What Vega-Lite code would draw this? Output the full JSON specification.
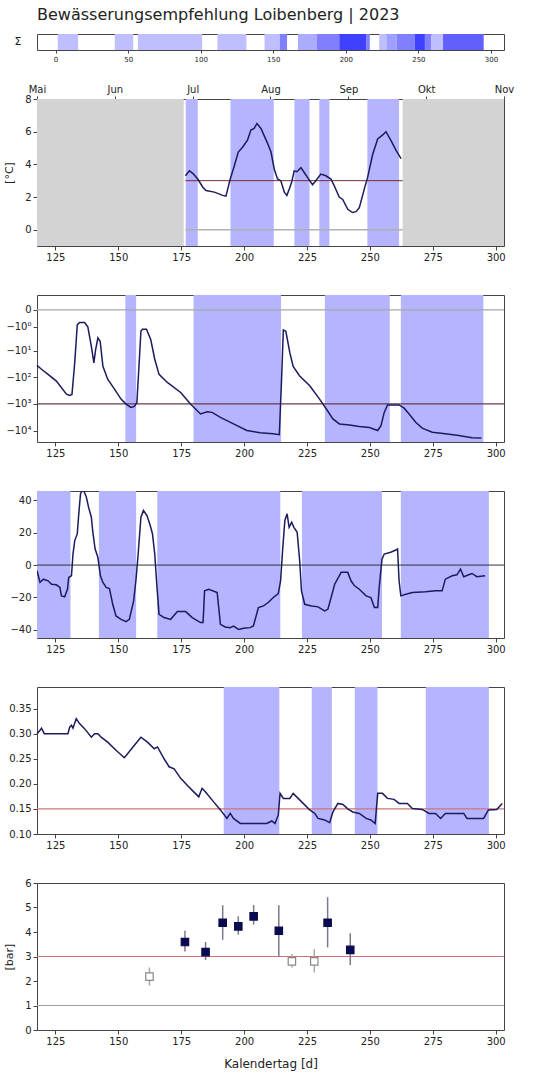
{
  "$schema": "https://vega.github.io/schema/vega-lite/v6.json",
  "padding": {"left": 3, "top": 6, "right": 5, "bottom": 5},
  "bounds": "flush",
  "spacing": 49,
  "title": {"text": "Bewässerungsempfehlung Loibenberg | 2023", "anchor": "start", "frame": "group", "fontSize": 16, "fontWeight": "normal", "color": "#222", "offset": 11},
  "config": {
    "font": "DejaVu Sans",
    "view": {"stroke": "#444", "strokeWidth": 1},
    "axis": {"grid": false, "domain": false, "labelFontSize": 10, "labelColor": "#222", "tickColor": "#444", "tickSize": 4, "labelPadding": 2, "titleFontWeight": "normal", "titleFontSize": 11, "titleColor": "#222", "labelFlush": false, "labelOverlap": false}
  },
  "datasets": {
    "strip": [
      {"s": 1.5, "e": 15.5, "lvl": 1},
      {"s": 40.8, "e": 53.5, "lvl": 1},
      {"s": 56.7, "e": 101, "lvl": 1},
      {"s": 111.5, "e": 131.5, "lvl": 1},
      {"s": 144, "e": 154.5, "lvl": 1},
      {"s": 154.5, "e": 159.5, "lvl": 2},
      {"s": 167, "e": 180, "lvl": 1.3},
      {"s": 180, "e": 195.5, "lvl": 2},
      {"s": 195.5, "e": 214, "lvl": 3},
      {"s": 214, "e": 216.5, "lvl": 2},
      {"s": 223, "e": 228, "lvl": 1},
      {"s": 228, "e": 235, "lvl": 1.5},
      {"s": 235, "e": 247.5, "lvl": 2},
      {"s": 247.5, "e": 254.5, "lvl": 3},
      {"s": 254.5, "e": 259, "lvl": 2},
      {"s": 259, "e": 267, "lvl": 1},
      {"s": 267, "e": 295, "lvl": 2.5}
    ],
    "p1gray": [{"d": 117.7, "d2": 176}, {"d": 263, "d2": 303.3}],
    "p1band": [{"d": 176.8, "d2": 181.6}, {"d": 194.6, "d2": 211.8}, {"d": 220, "d2": 226}, {"d": 229.9, "d2": 233.9}, {"d": 249, "d2": 261.6}],
    "p1ref": [{"d": 176.7, "d2": 263, "v": 3}],
    "p1zero": [{"d": 176.7, "d2": 263, "v": 0}],
    "p1line": [
      {"d": 176.7, "v": 3.3}, {"d": 178.3, "v": 3.6}, {"d": 179.6, "v": 3.45}, {"d": 181.6, "v": 3.1}, {"d": 183.6, "v": 2.6}, {"d": 184.9, "v": 2.4}, {"d": 188.2, "v": 2.3}, {"d": 191.5, "v": 2.1}, {"d": 192.8, "v": 2.05}, {"d": 194.5, "v": 3.1}, {"d": 196.1, "v": 3.9}, {"d": 197.7, "v": 4.75}, {"d": 199.4, "v": 5.05}, {"d": 201.4, "v": 5.5}, {"d": 202.7, "v": 6.1}, {"d": 204, "v": 6.2}, {"d": 205.1, "v": 6.5}, {"d": 206.7, "v": 6.2}, {"d": 209.3, "v": 5.3}, {"d": 210.7, "v": 4.75}, {"d": 212, "v": 3.7}, {"d": 213.3, "v": 3.1}, {"d": 214.6, "v": 3.0}, {"d": 216, "v": 2.3}, {"d": 217, "v": 2.1}, {"d": 218, "v": 2.5}, {"d": 218.9, "v": 2.9}, {"d": 219.9, "v": 3.6}, {"d": 221, "v": 3.55}, {"d": 222.6, "v": 3.8}, {"d": 223.9, "v": 3.5}, {"d": 225.2, "v": 3.2}, {"d": 227.2, "v": 2.75}, {"d": 228.5, "v": 3.0}, {"d": 230.5, "v": 3.4}, {"d": 232.5, "v": 3.3}, {"d": 234.5, "v": 3.1}, {"d": 235.8, "v": 2.7}, {"d": 237.8, "v": 2.0}, {"d": 239.2, "v": 1.85}, {"d": 241.2, "v": 1.25}, {"d": 243.1, "v": 1.05}, {"d": 244.5, "v": 1.1}, {"d": 245.8, "v": 1.35}, {"d": 247.8, "v": 2.5}, {"d": 249.1, "v": 3.2}, {"d": 251.1, "v": 4.6}, {"d": 253.1, "v": 5.55}, {"d": 255.1, "v": 5.8}, {"d": 256.4, "v": 6.0}, {"d": 258.4, "v": 5.45}, {"d": 260.4, "v": 4.85}, {"d": 262.4, "v": 4.35}
    ],
    "p2band": [{"d": 152.8, "d2": 157.1}, {"d": 179.9, "d2": 214.7}, {"d": 232.1, "d2": 257.9}, {"d": 262.3, "d2": 295.1}],
    "p2zero": [{"v": 0}],
    "p2ref": [{"v": -1000}],
    "p2line": [
      {"d": 117.7, "v": -36}, {"d": 119.5, "v": -50}, {"d": 122.1, "v": -78}, {"d": 125.4, "v": -140}, {"d": 129.4, "v": -431}, {"d": 130.7, "v": -480}, {"d": 131.6, "v": -440}, {"d": 132.7, "v": -28}, {"d": 133.7, "v": -0.8}, {"d": 134.6, "v": -0.6}, {"d": 136.6, "v": -0.6}, {"d": 137.9, "v": -1.0}, {"d": 139.3, "v": -6.7}, {"d": 140.3, "v": -29}, {"d": 141, "v": -8.9}, {"d": 141.9, "v": -3.1}, {"d": 142.8, "v": -4.2}, {"d": 143.9, "v": -39}, {"d": 145.8, "v": -119}, {"d": 148.5, "v": -280}, {"d": 151.1, "v": -662}, {"d": 153.1, "v": -1016}, {"d": 155, "v": -1350}, {"d": 156.4, "v": -1250}, {"d": 157.4, "v": -880}, {"d": 158.3, "v": -29}, {"d": 159, "v": -1.6}, {"d": 159.6, "v": -1.3}, {"d": 161.2, "v": -1.3}, {"d": 162.9, "v": -3.6}, {"d": 164.5, "v": -21}, {"d": 166.2, "v": -78}, {"d": 169.5, "v": -157}, {"d": 174.8, "v": -375}, {"d": 178.7, "v": -1016}, {"d": 182.7, "v": -2382}, {"d": 185.3, "v": -1980}, {"d": 187.3, "v": -2080}, {"d": 190.6, "v": -3200}, {"d": 195.8, "v": -5625}, {"d": 201.1, "v": -9960}, {"d": 206.4, "v": -12000}, {"d": 211.6, "v": -13200}, {"d": 214, "v": -14300}, {"d": 214.9, "v": -119}, {"d": 215.6, "v": -1.4}, {"d": 216.6, "v": -1.6}, {"d": 218.2, "v": -12}, {"d": 219.5, "v": -39}, {"d": 222.1, "v": -90}, {"d": 226.1, "v": -210}, {"d": 230, "v": -662}, {"d": 232.7, "v": -1554}, {"d": 235.3, "v": -3660}, {"d": 237.9, "v": -5625}, {"d": 241.9, "v": -6200}, {"d": 245.8, "v": -7000}, {"d": 249.8, "v": -7700}, {"d": 253.1, "v": -9960}, {"d": 254.4, "v": -6500}, {"d": 255.7, "v": -2080}, {"d": 257, "v": -1100}, {"d": 259, "v": -1100}, {"d": 261.6, "v": -1100}, {"d": 263.6, "v": -1450}, {"d": 265.6, "v": -2382}, {"d": 268.2, "v": -4900}, {"d": 270.8, "v": -8100}, {"d": 274.8, "v": -11500}, {"d": 280, "v": -13200}, {"d": 285.3, "v": -15200}, {"d": 290.6, "v": -18600}, {"d": 294.3, "v": -19000}
    ],
    "p3band": [{"d": 117.7, "d2": 131}, {"d": 142.3, "d2": 157.1}, {"d": 165.5, "d2": 214.4}, {"d": 223, "d2": 254.8}, {"d": 262.3, "d2": 297.3}],
    "p3zero": [{"v": 0}],
    "p3line": [
      {"d": 117.7, "v": -3.5}, {"d": 118.9, "v": -10.7}, {"d": 120.2, "v": -8.7}, {"d": 122.1, "v": -9.7}, {"d": 123.5, "v": -11.8}, {"d": 125.4, "v": -12.2}, {"d": 126.8, "v": -13.8}, {"d": 127.4, "v": -19}, {"d": 128.7, "v": -19.6}, {"d": 129.8, "v": -14.9}, {"d": 130.3, "v": -7.6}, {"d": 131.4, "v": -6.6}, {"d": 132, "v": 6.8}, {"d": 132.7, "v": 15.1}, {"d": 133.7, "v": 19.2}, {"d": 134.3, "v": 31.6}, {"d": 135, "v": 44}, {"d": 136, "v": 47}, {"d": 137.3, "v": 42}, {"d": 138.2, "v": 35.7}, {"d": 139.3, "v": 29.5}, {"d": 139.9, "v": 20.2}, {"d": 140.8, "v": 9.9}, {"d": 141.9, "v": 4.8}, {"d": 142.9, "v": -6.6}, {"d": 143.9, "v": -10.7}, {"d": 145.2, "v": -13.8}, {"d": 146.5, "v": -14.5}, {"d": 147.8, "v": -24.2}, {"d": 149.1, "v": -31.4}, {"d": 151.1, "v": -33.5}, {"d": 153.1, "v": -34.9}, {"d": 154.4, "v": -33.5}, {"d": 156.1, "v": -22.1}, {"d": 157, "v": -9.7}, {"d": 157.9, "v": 6.8}, {"d": 159, "v": 29.5}, {"d": 160, "v": 33.7}, {"d": 161.4, "v": 30.6}, {"d": 162.7, "v": 24.4}, {"d": 163.6, "v": 19.2}, {"d": 164.5, "v": 6.8}, {"d": 165.3, "v": -11.8}, {"d": 166.2, "v": -30.4}, {"d": 168.2, "v": -32.4}, {"d": 170.8, "v": -33.5}, {"d": 173.5, "v": -28.7}, {"d": 176.8, "v": -28.7}, {"d": 179.4, "v": -32.4}, {"d": 182.7, "v": -35.5}, {"d": 183.7, "v": -35.5}, {"d": 184.3, "v": -15.9}, {"d": 186, "v": -14.9}, {"d": 189.3, "v": -16.9}, {"d": 190.6, "v": -36.6}, {"d": 192.5, "v": -38.2}, {"d": 194.5, "v": -38.6}, {"d": 195.8, "v": -37.6}, {"d": 197.8, "v": -39.7}, {"d": 199.8, "v": -39}, {"d": 202.4, "v": -38.6}, {"d": 203.7, "v": -37.6}, {"d": 205.7, "v": -26.2}, {"d": 207.7, "v": -25.2}, {"d": 209.6, "v": -23.1}, {"d": 211.6, "v": -20}, {"d": 213.6, "v": -17.6}, {"d": 214.5, "v": -9.7}, {"d": 215.3, "v": 8.9}, {"d": 216.2, "v": 27.5}, {"d": 217.1, "v": 31.6}, {"d": 217.9, "v": 23.3}, {"d": 218.9, "v": 26.4}, {"d": 219.8, "v": 23.3}, {"d": 221.1, "v": 20.2}, {"d": 222.1, "v": 2.7}, {"d": 222.8, "v": -15.9}, {"d": 224.1, "v": -24.2}, {"d": 226.8, "v": -25.2}, {"d": 229.4, "v": -25.8}, {"d": 232, "v": -28.3}, {"d": 233.3, "v": -27.3}, {"d": 234.6, "v": -20}, {"d": 236, "v": -11.8}, {"d": 238.6, "v": -4.5}, {"d": 241.2, "v": -4.5}, {"d": 242.5, "v": -9.7}, {"d": 243.9, "v": -12.8}, {"d": 245.8, "v": -14.9}, {"d": 248.5, "v": -19}, {"d": 250.4, "v": -20}, {"d": 251.8, "v": -26.2}, {"d": 253.1, "v": -26.2}, {"d": 253.7, "v": -13.8}, {"d": 254.8, "v": 3.7}, {"d": 255.7, "v": 6.8}, {"d": 258.3, "v": 7.9}, {"d": 260.3, "v": 9.3}, {"d": 261, "v": 9.9}, {"d": 261.6, "v": -9.7}, {"d": 262.3, "v": -19}, {"d": 264.3, "v": -18}, {"d": 266.9, "v": -16.9}, {"d": 272.1, "v": -16.5}, {"d": 276.1, "v": -15.9}, {"d": 278.7, "v": -15.9}, {"d": 280, "v": -8.7}, {"d": 282.7, "v": -6.6}, {"d": 284.6, "v": -6}, {"d": 286, "v": -2.5}, {"d": 287.3, "v": -7.2}, {"d": 289.3, "v": -6}, {"d": 290.6, "v": -5.2}, {"d": 292.5, "v": -7.2}, {"d": 295.8, "v": -6.6}
    ],
    "p4band": [{"d": 191.9, "d2": 214}, {"d": 226.9, "d2": 234.9}, {"d": 244, "d2": 253}, {"d": 272.2, "d2": 297.3}],
    "p4ref": [{"v": 0.15}],
    "p4line": [
      {"d": 117.7, "v": 0.30}, {"d": 118.9, "v": 0.3066}, {"d": 119.5, "v": 0.311}, {"d": 120.6, "v": 0.30}, {"d": 130, "v": 0.30}, {"d": 130.7, "v": 0.313}, {"d": 131.4, "v": 0.3166}, {"d": 132, "v": 0.311}, {"d": 133.3, "v": 0.33}, {"d": 134.6, "v": 0.32}, {"d": 136.6, "v": 0.31}, {"d": 139.3, "v": 0.293}, {"d": 140.6, "v": 0.30}, {"d": 141.9, "v": 0.30}, {"d": 143.2, "v": 0.293}, {"d": 145.8, "v": 0.283}, {"d": 149.1, "v": 0.267}, {"d": 152.4, "v": 0.252}, {"d": 153.7, "v": 0.26}, {"d": 156.4, "v": 0.277}, {"d": 159, "v": 0.293}, {"d": 161.6, "v": 0.283}, {"d": 164.3, "v": 0.27}, {"d": 165.6, "v": 0.2735}, {"d": 168.2, "v": 0.25}, {"d": 170.2, "v": 0.234}, {"d": 172.2, "v": 0.23}, {"d": 174.8, "v": 0.211}, {"d": 177.4, "v": 0.197}, {"d": 180, "v": 0.184}, {"d": 182, "v": 0.174}, {"d": 183.3, "v": 0.191}, {"d": 184.6, "v": 0.184}, {"d": 187.9, "v": 0.164}, {"d": 190.6, "v": 0.148}, {"d": 193.2, "v": 0.131}, {"d": 194.5, "v": 0.141}, {"d": 195.8, "v": 0.131}, {"d": 198.5, "v": 0.121}, {"d": 203.7, "v": 0.121}, {"d": 209, "v": 0.121}, {"d": 211, "v": 0.126}, {"d": 212.3, "v": 0.121}, {"d": 213.6, "v": 0.138}, {"d": 214.3, "v": 0.181}, {"d": 215.6, "v": 0.171}, {"d": 218.2, "v": 0.171}, {"d": 219.5, "v": 0.181}, {"d": 221.5, "v": 0.171}, {"d": 224.1, "v": 0.158}, {"d": 226.1, "v": 0.148}, {"d": 228.1, "v": 0.141}, {"d": 229.4, "v": 0.131}, {"d": 232, "v": 0.128}, {"d": 234, "v": 0.1225}, {"d": 235.3, "v": 0.144}, {"d": 237.3, "v": 0.161}, {"d": 239.3, "v": 0.159}, {"d": 241.2, "v": 0.15}, {"d": 243.2, "v": 0.144}, {"d": 245.8, "v": 0.141}, {"d": 248.5, "v": 0.131}, {"d": 250.4, "v": 0.128}, {"d": 252.1, "v": 0.121}, {"d": 253.1, "v": 0.181}, {"d": 255, "v": 0.181}, {"d": 257, "v": 0.171}, {"d": 259.6, "v": 0.169}, {"d": 261.6, "v": 0.161}, {"d": 264.9, "v": 0.161}, {"d": 266.9, "v": 0.151}, {"d": 270.8, "v": 0.149}, {"d": 273.5, "v": 0.141}, {"d": 276.1, "v": 0.141}, {"d": 278.1, "v": 0.131}, {"d": 280, "v": 0.141}, {"d": 287.3, "v": 0.141}, {"d": 288.6, "v": 0.131}, {"d": 295.2, "v": 0.131}, {"d": 297.1, "v": 0.148}, {"d": 300.4, "v": 0.149}, {"d": 302.6, "v": 0.161}
    ],
    "p5ref": [{"v": 3}],
    "p5low": [{"v": 1}],
    "p5pts": [
      {"d": 162.4, "v": 2.18, "lo": 1.81, "hi": 2.55, "typ": "offen"},
      {"d": 176.5, "v": 3.59, "lo": 3.2, "hi": 4.05, "typ": "voll"},
      {"d": 184.7, "v": 3.18, "lo": 2.86, "hi": 3.59, "typ": "voll"},
      {"d": 191.5, "v": 4.38, "lo": 3.68, "hi": 5.09, "typ": "voll"},
      {"d": 197.7, "v": 4.23, "lo": 3.89, "hi": 4.64, "typ": "voll"},
      {"d": 203.8, "v": 4.64, "lo": 4.3, "hi": 5.1, "typ": "voll"},
      {"d": 213.8, "v": 4.05, "lo": 3.0, "hi": 5.09, "typ": "voll"},
      {"d": 219, "v": 2.8, "lo": 2.55, "hi": 3.1, "typ": "offen"},
      {"d": 227.9, "v": 2.8, "lo": 2.35, "hi": 3.3, "typ": "offen"},
      {"d": 233.2, "v": 4.38, "lo": 3.37, "hi": 5.42, "typ": "voll"},
      {"d": 242.2, "v": 3.27, "lo": 2.65, "hi": 3.95, "typ": "voll"}
    ]
  },
  "vconcat": [
    {
      "width": 467, "height": 16,
      "data": {"name": "strip"},
      "mark": {"type": "rect"},
      "encoding": {
        "x": {"field": "s", "type": "quantitative", "scale": {"domain": [-12.8, 309], "nice": false, "zero": false}, "axis": {"values": [0, 50, 100, 150, 200, 250, 300], "title": null, "labelFontSize": 7, "tickSize": 3}},
        "x2": {"field": "e"},
        "y": {"datum": "Σ", "type": "nominal", "scale": {"paddingInner": 0, "paddingOuter": 0}, "axis": {"title": null, "ticks": false, "labelPadding": 16, "labelFontSize": 11}},
        "color": {"field": "lvl", "type": "quantitative", "scale": {"domain": [0, 4], "range": ["#ffffff", "#0000ff"], "interpolate": "rgb"}, "legend": null}
      }
    },
    {
      "width": 467, "height": 147,
      "resolve": {"axis": {"x": "independent"}},
      "layer": [
        {
          "data": {"name": "p1gray"},
          "mark": {"type": "rect", "color": "#d3d3d3"},
          "encoding": {
            "x": {"field": "d", "type": "quantitative", "scale": {"domain": [117.7, 303.3], "nice": false, "zero": false}, "axis": {"orient": "top", "values": [117.7, 148.63, 179.57, 210.5, 241.43, 272.37, 303.3], "labelExpr": "['Mai','Jun','Jul','Aug','Sep','Okt','Nov'][round((datum.value-117.7)/30.93)]", "title": null, "tickSize": 3, "labelFontSize": 10}},
            "x2": {"field": "d2"}
          }
        },
        {
          "data": {"name": "p1band"},
          "mark": {"type": "rect", "color": "#b4b4ff"},
          "encoding": {
            "x": {"field": "d", "type": "quantitative", "axis": null},
            "x2": {"field": "d2"}
          }
        },
        {
          "data": {"name": "p1zero"},
          "mark": {"type": "rule", "color": "#b0b0b0", "strokeWidth": 1.5},
          "encoding": {
            "x": {"field": "d", "type": "quantitative", "axis": null},
            "x2": {"field": "d2"},
            "y": {"field": "v", "type": "quantitative", "scale": {"domain": [-1, 8], "nice": false, "zero": false}, "axis": {"values": [0, 2, 4, 6, 8], "title": "[°C]", "titlePadding": 10}}
          }
        },
        {
          "data": {"name": "p1ref"},
          "mark": {"type": "rule", "color": "#7a2a3a", "strokeWidth": 1},
          "encoding": {
            "x": {"field": "d", "type": "quantitative", "axis": null},
            "x2": {"field": "d2"},
            "y": {"field": "v", "type": "quantitative", "scale": {"domain": [-1, 8], "nice": false, "zero": false}, "axis": {"values": [0, 2, 4, 6, 8], "title": "[°C]", "titlePadding": 10}}
          }
        },
        {
          "data": {"name": "p1line"},
          "mark": {"type": "line", "color": "#1b1b5e", "strokeWidth": 1.5},
          "encoding": {
            "x": {"field": "d", "type": "quantitative", "scale": {"domain": [117.7, 303.3], "nice": false, "zero": false}, "axis": {"values": [125, 150, 175, 200, 225, 250, 275, 300], "title": null}},
            "y": {"field": "v", "type": "quantitative", "scale": {"domain": [-1, 8], "nice": false, "zero": false}, "axis": {"values": [0, 2, 4, 6, 8], "title": "[°C]", "titlePadding": 10}}
          }
        }
      ]
    },
    {
      "width": 467, "height": 147,
      "layer": [
        {
          "data": {"name": "p2band"},
          "mark": {"type": "rect", "color": "#b4b4ff"},
          "encoding": {
            "x": {"field": "d", "type": "quantitative", "scale": {"domain": [117.7, 303.3], "nice": false, "zero": false}, "axis": {"values": [125, 150, 175, 200, 225, 250, 275, 300], "title": null}},
            "x2": {"field": "d2"}
          }
        },
        {
          "data": {"name": "p2zero"},
          "mark": {"type": "rule", "color": "#a8a8a8", "strokeWidth": 1.2},
          "encoding": {"y": {"field": "v", "type": "quantitative", "scale": {"type": "symlog", "constant": 0.3, "domain": [-26800, 0.78], "nice": false, "zero": false}, "axis": {"values": [0, -1, -10, -100, -1000, -10000], "title": null, "labelExpr": "datum.value == 0 ? '0' : '−10' + ['⁰','¹','²','³','⁴'][round(log(-datum.value)/LN10)]"}}}
        },
        {
          "data": {"name": "p2ref"},
          "mark": {"type": "rule", "color": "#6a3a4a", "strokeWidth": 1.2},
          "encoding": {"y": {"field": "v", "type": "quantitative", "scale": {"type": "symlog", "constant": 0.3, "domain": [-26800, 0.78], "nice": false, "zero": false}, "axis": {"values": [0, -1, -10, -100, -1000, -10000], "title": null, "labelExpr": "datum.value == 0 ? '0' : '−10' + ['⁰','¹','²','³','⁴'][round(log(-datum.value)/LN10)]"}}}
        },
        {
          "data": {"name": "p2line"},
          "mark": {"type": "line", "color": "#1b1b5e", "strokeWidth": 1.5},
          "encoding": {
            "x": {"field": "d", "type": "quantitative", "scale": {"domain": [117.7, 303.3], "nice": false, "zero": false}, "axis": {"values": [125, 150, 175, 200, 225, 250, 275, 300], "title": null}},
            "y": {"field": "v", "type": "quantitative", "scale": {"type": "symlog", "constant": 0.3, "domain": [-26800, 0.78], "nice": false, "zero": false}, "axis": {"values": [0, -1, -10, -100, -1000, -10000], "title": null, "labelExpr": "datum.value == 0 ? '0' : '−10' + ['⁰','¹','²','³','⁴'][round(log(-datum.value)/LN10)]"}}
          }
        }
      ]
    },
    {
      "width": 467, "height": 147,
      "layer": [
        {
          "data": {"name": "p3band"},
          "mark": {"type": "rect", "color": "#b4b4ff"},
          "encoding": {
            "x": {"field": "d", "type": "quantitative", "scale": {"domain": [117.7, 303.3], "nice": false, "zero": false}, "axis": {"values": [125, 150, 175, 200, 225, 250, 275, 300], "title": null}},
            "x2": {"field": "d2"}
          }
        },
        {
          "data": {"name": "p3zero"},
          "mark": {"type": "rule", "color": "#333333", "strokeWidth": 1},
          "encoding": {"y": {"field": "v", "type": "quantitative", "scale": {"domain": [-45, 45.7], "nice": false, "zero": false}, "axis": {"values": [-40, -20, 0, 20, 40], "title": null}}}
        },
        {
          "data": {"name": "p3line"},
          "mark": {"type": "line", "color": "#1b1b5e", "strokeWidth": 1.5, "clip": true},
          "encoding": {
            "x": {"field": "d", "type": "quantitative", "scale": {"domain": [117.7, 303.3], "nice": false, "zero": false}, "axis": {"values": [125, 150, 175, 200, 225, 250, 275, 300], "title": null}},
            "y": {"field": "v", "type": "quantitative", "scale": {"domain": [-45, 45.7], "nice": false, "zero": false}, "axis": {"values": [-40, -20, 0, 20, 40], "title": null}}
          }
        }
      ]
    },
    {
      "width": 467, "height": 147,
      "layer": [
        {
          "data": {"name": "p4band"},
          "mark": {"type": "rect", "color": "#b4b4ff"},
          "encoding": {
            "x": {"field": "d", "type": "quantitative", "scale": {"domain": [117.7, 303.3], "nice": false, "zero": false}, "axis": {"values": [125, 150, 175, 200, 225, 250, 275, 300], "title": null}},
            "x2": {"field": "d2"}
          }
        },
        {
          "data": {"name": "p4ref"},
          "mark": {"type": "rule", "color": "#c87878", "strokeWidth": 1.2},
          "encoding": {"y": {"field": "v", "type": "quantitative", "scale": {"domain": [0.1, 0.393], "nice": false, "zero": false}, "axis": {"values": [0.10, 0.15, 0.20, 0.25, 0.30, 0.35], "format": ".2f", "title": null}}}
        },
        {
          "data": {"name": "p4line"},
          "mark": {"type": "line", "color": "#1b1b5e", "strokeWidth": 1.5},
          "encoding": {
            "x": {"field": "d", "type": "quantitative", "scale": {"domain": [117.7, 303.3], "nice": false, "zero": false}, "axis": {"values": [125, 150, 175, 200, 225, 250, 275, 300], "title": null}},
            "y": {"field": "v", "type": "quantitative", "scale": {"domain": [0.1, 0.393], "nice": false, "zero": false}, "axis": {"values": [0.10, 0.15, 0.20, 0.25, 0.30, 0.35], "format": ".2f", "title": null}}
          }
        }
      ]
    },
    {
      "width": 467, "height": 147,
      "layer": [
        {
          "data": {"name": "p5ref"},
          "mark": {"type": "rule", "color": "#d07070", "strokeWidth": 1.2},
          "encoding": {"y": {"field": "v", "type": "quantitative", "scale": {"domain": [0, 6], "nice": false, "zero": false}, "axis": {"values": [0, 1, 2, 3, 4, 5, 6], "title": "[bar]", "titlePadding": 10}}}
        },
        {
          "data": {"name": "p5low"},
          "mark": {"type": "rule", "color": "#a0a0a0", "strokeWidth": 1.2},
          "encoding": {"y": {"field": "v", "type": "quantitative", "scale": {"domain": [0, 6], "nice": false, "zero": false}, "axis": {"values": [0, 1, 2, 3, 4, 5, 6], "title": "[bar]", "titlePadding": 10}}}
        },
        {
          "data": {"name": "p5pts"},
          "mark": {"type": "rule", "strokeWidth": 1.5},
          "encoding": {
            "x": {"field": "d", "type": "quantitative", "scale": {"domain": [117.7, 303.3], "nice": false, "zero": false}, "axis": {"values": [125, 150, 175, 200, 225, 250, 275, 300], "title": "Kalendertag [d]", "titleFontSize": 12, "titlePadding": 12}},
            "y": {"field": "lo", "type": "quantitative", "scale": {"domain": [0, 6], "nice": false, "zero": false}, "axis": {"values": [0, 1, 2, 3, 4, 5, 6], "title": "[bar]", "titlePadding": 10}},
            "y2": {"field": "hi"},
            "color": {"field": "typ", "type": "nominal", "scale": {"domain": ["voll", "offen"], "range": ["#7a7a8c", "#a8a8a8"]}, "legend": null}
          }
        },
        {
          "data": {"name": "p5pts"},
          "mark": {"type": "point", "shape": "square", "filled": true, "size": 55, "strokeWidth": 1.2, "opacity": 1},
          "encoding": {
            "x": {"field": "d", "type": "quantitative", "scale": {"domain": [117.7, 303.3], "nice": false, "zero": false}, "axis": {"values": [125, 150, 175, 200, 225, 250, 275, 300], "title": "Kalendertag [d]", "titleFontSize": 12, "titlePadding": 12}},
            "y": {"field": "v", "type": "quantitative", "scale": {"domain": [0, 6], "nice": false, "zero": false}, "axis": {"values": [0, 1, 2, 3, 4, 5, 6], "title": "[bar]", "titlePadding": 10}},
            "fill": {"field": "typ", "type": "nominal", "scale": {"domain": ["voll", "offen"], "range": ["#0a0a50", "#ffffff"]}, "legend": null},
            "stroke": {"field": "typ", "type": "nominal", "scale": {"domain": ["voll", "offen"], "range": ["#0a0a50", "#888888"]}, "legend": null}
          }
        }
      ]
    }
  ]
}
